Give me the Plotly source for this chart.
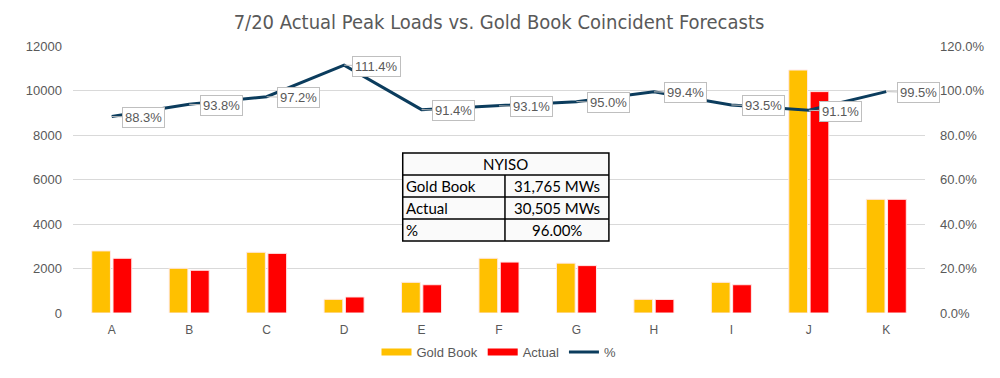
import plotly.graph_objects as go

categories = ["A", "B", "C", "D", "E", "F", "G", "H", "I", "J", "K"]
gold_book = [2790, 2010, 2730, 615, 1380, 2460, 2240, 615, 1380, 10920, 5110]
actual = [2460, 1920, 2680, 720, 1270, 2290, 2130, 610, 1270, 9950, 5110]
pct = [0.883, 0.938, 0.972, 1.114, 0.914, 0.931, 0.950, 0.994, 0.935, 0.911, 0.995]

title_text = "7/20 Actual Peak Loads vs. Gold Book Coincident Forecasts"
table_header = "NYISO"
table_labels = ["Gold Book", "Actual", "%"]
table_values = ["31,765 MWs", "30,505 MWs", "96.00%"]

GRAY = "#595959"
FONT = "Liberation Sans"
GOLD = "#FFC000"
RED = "#FF0000"
NAVY = "#0B3C5D"

# page body has an 8px default margin: figure is sized to fit the 1000x378 window
W, H = 992, 370

fig = go.Figure()
fig.add_trace(go.Bar(x=categories, y=gold_book, name="Gold Book", showlegend=False,
                     marker=dict(color=GOLD, line=dict(color="#FFE9E9", width=1))))
fig.add_trace(go.Bar(x=categories, y=actual, name="Actual", showlegend=False,
                     marker=dict(color=RED, line=dict(color="#FFE9E9", width=1))))
fig.add_trace(go.Scatter(x=categories, y=pct, name="%", mode="lines", yaxis="y2",
                         showlegend=False, line=dict(color=NAVY, width=3)))
# legend entries (Excel-style wide swatches)
for nm, col, w in [("Gold Book", GOLD, 7), ("Actual", RED, 7), ("%", NAVY, 3)]:
    fig.add_trace(go.Scatter(x=[None], y=[None], name=nm, mode="lines",
                             line=dict(color=col, width=w)))

annotations = []
for c, p in zip(categories, pct):
    annotations.append(dict(
        x=c, y=p, xref="x", yref="y2", text=f"{p*100:.1f}%",
        showarrow=True, arrowhead=0, arrowwidth=1, arrowcolor="#BFBFBF",
        ax=32, ay=1, font=dict(size=13, color=GRAY, family=FONT),
        bgcolor="white", bordercolor="#BFBFBF", borderwidth=1, borderpad=2,
    ))

# table drawn with shapes + text
x_l, x_m, x_r = 0.387, 0.507, 0.629
ys = [0.599, 0.517, 0.434, 0.352, 0.270]
shapes = [dict(type="rect", xref="paper", yref="paper", x0=x_l, x1=x_r, y0=ys[-1], y1=ys[0],
               line=dict(color="black", width=1.5), fillcolor="#FAFAFA", layer="above")]
for yy in ys[1:-1]:
    shapes.append(dict(type="line", xref="paper", yref="paper", x0=x_l, x1=x_r, y0=yy, y1=yy,
                       line=dict(color="black", width=1.5), layer="above"))
shapes.append(dict(type="line", xref="paper", yref="paper", x0=x_m, x1=x_m, y0=ys[-1], y1=ys[1],
                   line=dict(color="black", width=1.5), layer="above"))

TFONT = dict(size=15, color="black", family="Lato")
annotations.append(dict(x=(x_l + x_r) / 2, y=(ys[0] + ys[1]) / 2, xref="paper", yref="paper",
                        text=table_header, showarrow=False, font=TFONT,
                        xanchor="center", yanchor="middle"))
for i, (lab, val) in enumerate(zip(table_labels, table_values)):
    yc = (ys[i + 1] + ys[i + 2]) / 2
    annotations.append(dict(x=x_l, y=yc, xref="paper", yref="paper", text=lab, showarrow=False,
                            xanchor="left", yanchor="middle", xshift=1, font=TFONT))
    annotations.append(dict(x=(x_m + x_r) / 2, y=yc, xref="paper", yref="paper", text=val,
                            showarrow=False, xanchor="center", yanchor="middle", font=TFONT))

fig.update_layout(
    width=W, height=H,
    margin=dict(l=65, r=75, t=38, b=65, autoexpand=False),
    paper_bgcolor="white", plot_bgcolor="white",
    font=dict(family=FONT, color=GRAY, size=12),
    title=dict(text=title_text, x=0.5, xanchor="center", xref="paper",
               y=1 - 14 / H, yref="container", yanchor="middle",
               font=dict(size=20, color=GRAY, family="DejaVu Sans Condensed, Roboto")),
    barmode="group", bargap=0.45, bargroupgap=0.12,
    xaxis=dict(range=[-0.5, len(categories) - 0.5], showgrid=False, showline=False, ticks="",
               ticklabelstandoff=8, tickfont=dict(size=12, color=GRAY)),
    yaxis=dict(range=[0, 12000], dtick=2000, tickformat="d", showgrid=True, gridcolor="#D9D9D9",
               gridwidth=1, zeroline=False, showline=False, ticks="", ticklabelstandoff=10,
               tickfont=dict(size=13, color=GRAY)),
    yaxis2=dict(range=[0, 1.2], dtick=0.2, tickformat=".1%", overlaying="y", side="right",
                showgrid=False, zeroline=False, showline=False, ticklabelstandoff=14,
                tickfont=dict(size=13, color=GRAY)),
    legend=dict(orientation="h", x=0.5, xanchor="center", y=26 / H, yref="container",
                yanchor="middle", font=dict(size=13, color=GRAY), traceorder="normal"),
    annotations=annotations,
    shapes=shapes,
)

fig.write_html("out.html")
